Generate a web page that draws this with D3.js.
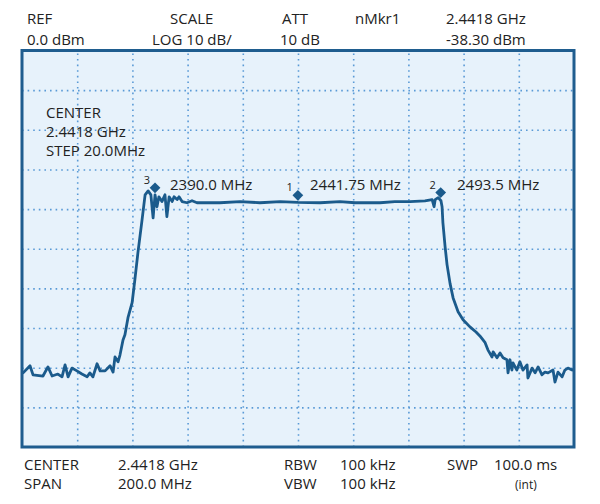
<!DOCTYPE html>
<html>
<head>
<meta charset="utf-8">
<script src="https://cdn.jsdelivr.net/npm/d3@7"></script>
<style>
  html, body { margin: 0; padding: 0; background: #ffffff; }
  svg { display: block; }
  text { font-family: "Open Sans", "Noto Sans", sans-serif; fill: #222222; }
</style>
</head>
<body>
<svg id="chart" width="600" height="504"></svg>
<script>
// ---- data ----
const spanStart = 2341.8, spanEnd = 2541.8;   // MHz (center 2441.8, span 200)
const refLevel = 0, bottomLevel = -100;       // dBm (10 dB/div)

const gridFreqs = [2361.8, 2381.8, 2401.8, 2421.8, 2441.8, 2461.8, 2481.8, 2501.8, 2521.8];
const gridLevels = [-10, -20, -30, -40, -50, -60, -70, -80, -90];

const traceFreq = [2341.8, 2342.2, 2344.7, 2345.8, 2349.4, 2351.2, 2352.7, 2354.8, 2356.3, 2357.4, 2358.5, 2359.9, 2361.7, 2363.5, 2365.4, 2366.4, 2367.5, 2369.0, 2370.1, 2371.9, 2373.7, 2374.8, 2375.5, 2376.6, 2377.3, 2378.4, 2379.1, 2380.2, 2381.7, 2382.7, 2383.8, 2385.3, 2386.4, 2387.5, 2388.5, 2389.3, 2390.0, 2390.7, 2391.4, 2392.5, 2393.6, 2394.3, 2395.1, 2396.2, 2396.9, 2398.0, 2398.7, 2399.8, 2401.6, 2403.4, 2405.2, 2408.1, 2413.5, 2420.8, 2428.0, 2435.3, 2441.8, 2449.8, 2457.0, 2462.5, 2471.5, 2476.9, 2482.4, 2487.8, 2490.4, 2491.1, 2491.5, 2492.6, 2493.6, 2494.0, 2494.3, 2495.1, 2495.8, 2496.9, 2498.0, 2499.8, 2501.6, 2504.1, 2506.3, 2507.7, 2509.6, 2510.6, 2512.1, 2512.5, 2513.9, 2515.0, 2516.1, 2517.5, 2517.9, 2518.6, 2519.3, 2519.7, 2521.1, 2522.2, 2523.3, 2524.8, 2525.1, 2526.6, 2527.7, 2528.8, 2530.2, 2531.3, 2532.4, 2534.2, 2534.9, 2536.0, 2537.5, 2538.5, 2539.6, 2541.1, 2541.8];
const traceLevel = [-81.3, -81.3, -79.5, -81.8, -82.1, -79.8, -82.1, -81.6, -82.3, -79.3, -82.3, -80.1, -80.8, -81.6, -82.3, -81.3, -82.3, -79.0, -80.8, -80.8, -79.5, -81.1, -77.3, -78.5, -76.8, -73.0, -71.7, -67.4, -63.6, -57.8, -51.0, -42.7, -36.4, -35.4, -36.4, -42.2, -36.4, -39.4, -36.9, -38.1, -36.4, -41.9, -36.9, -38.1, -36.9, -37.6, -36.9, -38.1, -38.4, -37.9, -38.4, -38.4, -38.4, -38.1, -38.4, -38.1, -38.3, -38.4, -38.1, -38.4, -38.4, -38.1, -38.1, -37.9, -37.6, -39.4, -37.6, -37.1, -37.9, -39.4, -43.4, -49.5, -54.0, -58.8, -62.4, -65.9, -67.9, -69.7, -71.0, -72.0, -73.7, -75.5, -77.3, -76.0, -77.5, -76.3, -77.5, -78.0, -81.3, -78.0, -80.6, -78.8, -80.6, -78.5, -80.6, -79.3, -82.6, -80.1, -81.3, -79.8, -81.8, -81.1, -81.3, -80.6, -83.6, -81.1, -82.3, -80.6, -80.1, -80.6, -80.3];

const markerIds = ["1", "2", "3"];
const markerFreq = [2441.75, 2493.5, 2390.0];
const markerLevel = [-38.3, -37.6, -36.4];
const markerLabels = ["2441.75 MHz", "2493.5 MHz", "2390.0 MHz"];

const headerTop = ["REF", "SCALE", "ATT", "nMkr1", "2.4418 GHz"];
const headerBottom = ["0.0 dBm", "LOG 10 dB/", "10 dB", "", "-38.30 dBm"];
const footerLine1 = ["CENTER", "2.4418 GHz", "RBW", "100 kHz", "SWP", "100.0 ms"];
const footerLine2 = ["SPAN", "200.0 MHz", "VBW", "100 kHz", "", ""];
const footerNote = "(int)";
const insideLines = ["CENTER", "2.4418 GHz", "STEP 20.0MHz"];

// ---- layout ----
const L = 22, R = 574, T = 50.5, B = 447;
const svg = d3.select("#chart");

const x = d3.scaleLinear().domain([spanStart, spanEnd]).range([L, R]);
const y = d3.scaleLinear().domain([bottomLevel, refLevel]).range([B, T]);

// plot background
svg.append("rect").attr("x", L).attr("y", T).attr("width", R - L).attr("height", B - T)
  .attr("fill", "#e7f2fb");

// grid
const gridColor = "#5a9ad6";
const gx = svg.append("g").attr("transform", `translate(0,${B})`)
  .call(d3.axisBottom(x).tickValues(gridFreqs).tickSize(-(B - T)).tickFormat(""));
gx.select(".domain").remove();
gx.selectAll("line").attr("stroke", gridColor).attr("stroke-width", 1.6)
  .attr("stroke-dasharray", "1.6,4");

const gy = svg.append("g").attr("transform", `translate(${L},0)`)
  .call(d3.axisLeft(y).tickValues(gridLevels).tickSize(-(R - L)).tickFormat(""));
gy.select(".domain").remove();
gy.selectAll("line").attr("stroke", gridColor).attr("stroke-width", 1.6)
  .attr("stroke-dasharray", "1.6,4");

// inside text
const inside = svg.append("g");
insideLines.forEach((t, i) => {
  inside.append("text").attr("x", 46).attr("y", 117.5 + i * 19)
    .attr("font-size", 15).text(t);
});

// trace
const pts = traceFreq.map((f, i) => [f, traceLevel[i]]);
svg.append("defs").append("clipPath").attr("id", "clip")
  .append("rect").attr("x", L).attr("y", T).attr("width", R - L).attr("height", B - T);
svg.append("path").datum(pts)
  .attr("clip-path", "url(#clip)")
  .attr("fill", "none").attr("stroke", "#1b5b8c").attr("stroke-width", 2.8)
  .attr("stroke-linejoin", "round").attr("stroke-linecap", "round")
  .attr("d", d3.line().x(d => x(d[0])).y(d => y(d[1])));

// markers
const diamond = d3.symbol().type(d3.symbolSquare).size(58);
markerIds.forEach((id, i) => {
  const mx = x(markerFreq[i]), my = y(markerLevel[i]) - 7;
  svg.append("path").attr("d", diamond())
    .attr("transform", `translate(${mx},${my}) rotate(45)`)
    .attr("fill", "#1b5b8c");
  svg.append("text").attr("x", mx - 5).attr("y", my - 4)
    .attr("text-anchor", "end").attr("font-size", 11).text(id);
});
const labelX = [310, 457, 170];
markerLabels.forEach((t, i) => {
  svg.append("text").attr("x", labelX[i]).attr("y", 189.5)
    .attr("font-size", 15).text(t);
});

// frame
svg.append("rect").attr("x", L).attr("y", T).attr("width", R - L).attr("height", B - T)
  .attr("fill", "none").attr("stroke", "#1f5d8f").attr("stroke-width", 3);

// header
const headerX = [27, 170, 282, 355, 446];
const headerX2 = [27, 152, 280, 355, 446];
headerTop.forEach((t, i) => {
  svg.append("text").attr("x", headerX[i]).attr("y", 24).attr("font-size", 15).text(t);
});
headerBottom.forEach((t, i) => {
  if (t) svg.append("text").attr("x", headerX2[i]).attr("y", 45).attr("font-size", 15).text(t);
});

// footer
const footX = [24, 118, 284, 340, 447, 494];
footerLine1.forEach((t, i) => {
  svg.append("text").attr("x", footX[i]).attr("y", 469.5).attr("font-size", 15).text(t);
});
footerLine2.forEach((t, i) => {
  if (t) svg.append("text").attr("x", footX[i]).attr("y", 489).attr("font-size", 15).text(t);
});
svg.append("text").attr("x", 515).attr("y", 488.5).attr("font-size", 12).text(footerNote);
</script>
</body>
</html>
